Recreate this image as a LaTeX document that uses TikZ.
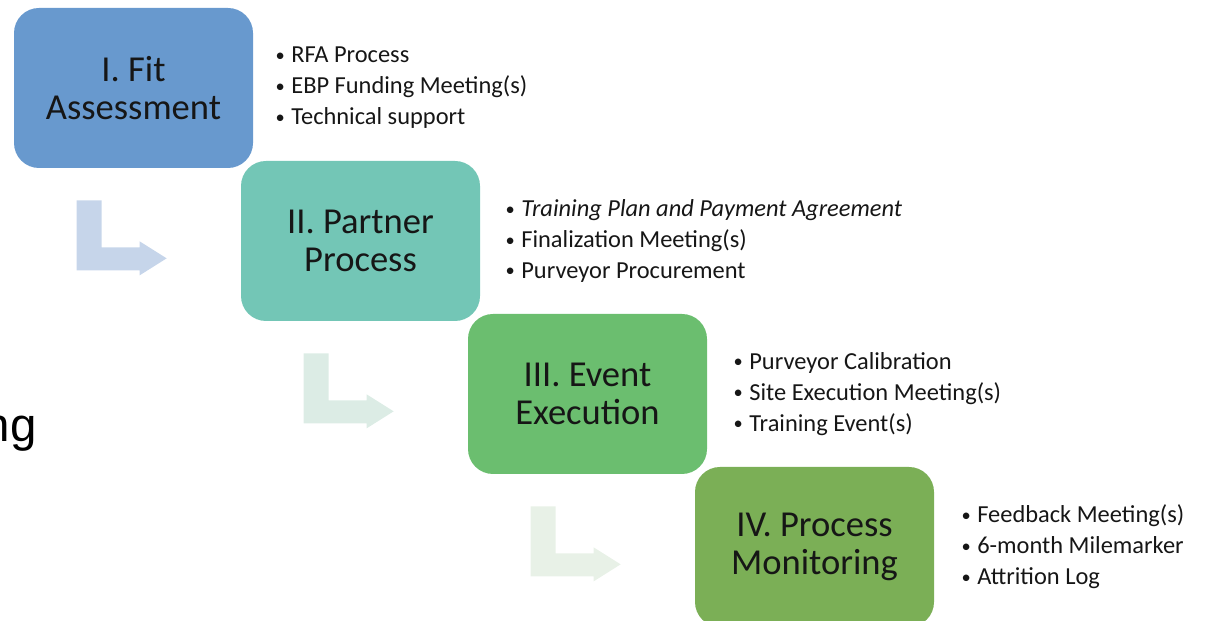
\documentclass[tikz,border=0pt]{standalone}
\usepackage{fontspec}
\setmainfont{Carlito}
\newfontfamily\slidefont{Liberation Sans}
\usetikzlibrary{positioning}

\definecolor{fitblue}{RGB}{104,153,206}
\definecolor{partnerteal}{RGB}{115,198,182}
\definecolor{eventgreen}{RGB}{107,190,111}
\definecolor{monitorgreen}{RGB}{123,175,86}
\definecolor{arrowblue}{RGB}{198,213,234}
\definecolor{arrowteal}{RGB}{220,236,229}
\definecolor{arrowgreen}{RGB}{232,241,231}
\definecolor{inkgray}{RGB}{22,22,22}

\newcommand{\blt}{\makebox[0.64em][l]{\raisebox{0.06em}{\fontsize{10.5}{10.5}\selectfont\textbullet}}}

\begin{document}
\begin{tikzpicture}[
  stage/.style={rounded corners=0.5cm, minimum width=4.78cm, minimum height=3.2cm, inner sep=0pt, align=center, text=inkgray, font=\fontsize{20.8}{21.6}\selectfont},
  tasks/.style={inner sep=0pt, align=left, text=inkgray, font=\fontsize{13.9}{17.6}\selectfont}]
\useasboundingbox (0,0) rectangle (24.22,12.42);

% stages
\node[stage, fill=fitblue] (fit) at (2.67,10.66) {I. Fit\\Assessment};
\node[stage, fill=partnerteal] (partner) at (7.21,7.60) {II. Partner\\Process};
\node[stage, fill=eventgreen] (event) at (11.75,4.54) {III. Event\\Execution};
\node[stage, fill=monitorgreen] (monitor) at (16.29,1.48) {IV. Process\\Monitoring};

% task lists
\node[tasks, right=0.44cm of fit] (fittasks) {\blt RFA Process\\\blt EBP Funding Meeting(s)\\\blt Technical support};
\node[tasks, right=0.5cm of partner] (partnertasks) {\blt \textit{Training Plan and Payment Agreement}\\\blt Finalization Meeting(s)\\\blt Purveyor Procurement};
\node[tasks, right=0.52cm of event] (eventtasks) {\blt Purveyor Calibration\\\blt Site Execution Meeting(s)\\\blt Training Event(s)};
\node[tasks, right=0.54cm of monitor] (monitortasks) {\blt Feedback Meeting(s)\\\blt 6-month Milemarker\\\blt Attrition Log};

% bent arrows
\fill[arrowblue, shift={(fit.south west)}] (1.26,-0.64) -- (1.76,-0.64) -- (1.76,-1.58) -- (2.52,-1.58) -- (2.52,-1.46) -- (3.06,-1.80) -- (2.52,-2.14) -- (2.52,-2.04) -- (1.26,-2.04) -- cycle;
\fill[arrowteal, shift={(partner.south west)}] (1.26,-0.64) -- (1.76,-0.64) -- (1.76,-1.58) -- (2.52,-1.58) -- (2.52,-1.46) -- (3.06,-1.80) -- (2.52,-2.14) -- (2.52,-2.04) -- (1.26,-2.04) -- cycle;
\fill[arrowgreen, shift={(event.south west)}] (1.26,-0.64) -- (1.76,-0.64) -- (1.76,-1.58) -- (2.52,-1.58) -- (2.52,-1.46) -- (3.06,-1.80) -- (2.52,-2.14) -- (2.52,-2.04) -- (1.26,-2.04) -- cycle;

\node[inner sep=0pt, anchor=base east, font=\slidefont\fontsize{27}{27}\selectfont] (leftover) at (0.74,3.58) {ng};
\end{tikzpicture}
\end{document}
